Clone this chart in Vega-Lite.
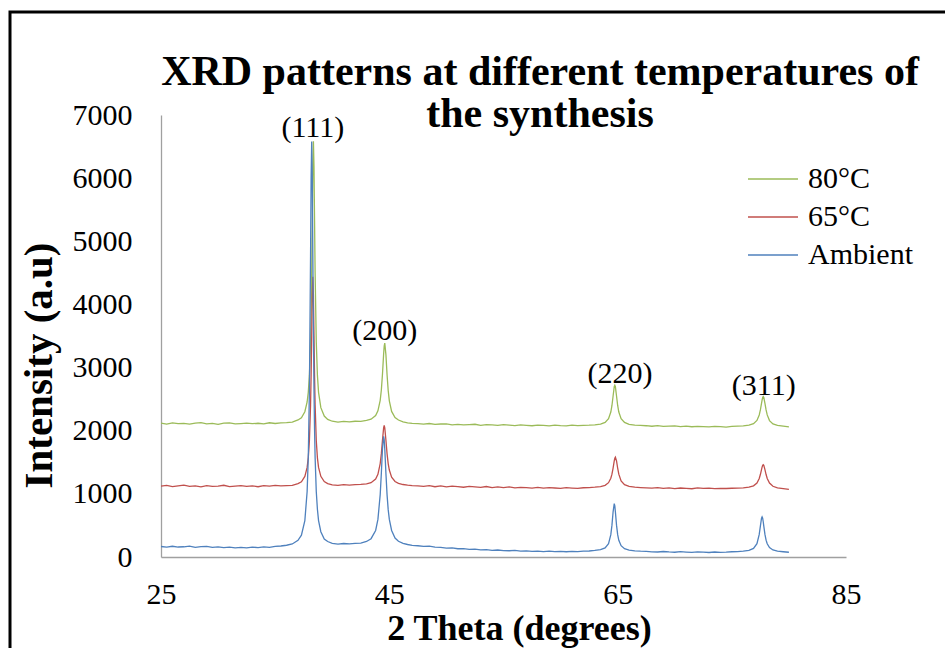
{
  "$schema": "https://vega.github.io/schema/vega-lite/v6.json",
  "width": 950,
  "height": 650,
  "autosize": {"type": "none"},
  "padding": {"left": 10, "top": 12, "right": 0, "bottom": 0},
  "background": "white",
  "view": {"stroke": "#000000", "strokeWidth": 3},
  "title": {
    "text": ["XRD patterns at different temperatures of", "the synthesis"],
    "font": "Liberation Serif",
    "fontSize": 42,
    "fontWeight": "bold",
    "lineHeight": 42,
    "color": "#000000",
    "anchor": "middle",
    "frame": "group",
    "orient": "top",
    "dx": 55,
    "offset": -124
  },
  "datasets": {
    "xrd": [
      {"x":25.0,"g":2120,"r":1121,"b":166},
      {"x":25.5,"g":2106,"r":1133,"b":155},
      {"x":26.0,"g":2125,"r":1114,"b":170},
      {"x":26.5,"g":2112,"r":1128,"b":158},
      {"x":27.0,"g":2117,"r":1139,"b":162},
      {"x":27.5,"g":2103,"r":1118,"b":173},
      {"x":28.0,"g":2121,"r":1125,"b":154},
      {"x":28.5,"g":2128,"r":1112,"b":164},
      {"x":29.0,"g":2109,"r":1130,"b":167},
      {"x":29.5,"g":2116,"r":1119,"b":151},
      {"x":30.0,"g":2101,"r":1124,"b":160},
      {"x":30.5,"g":2119,"r":1136,"b":149},
      {"x":31.0,"g":2124,"r":1115,"b":157},
      {"x":31.5,"g":2107,"r":1122,"b":146},
      {"x":32.0,"g":2113,"r":1131,"b":153},
      {"x":32.5,"g":2120,"r":1117,"b":144},
      {"x":33.0,"g":2111,"r":1126,"b":156},
      {"x":33.5,"g":2118,"r":1113,"b":150},
      {"x":34.0,"g":2108,"r":1129,"b":161},
      {"x":34.5,"g":2126,"r":1122,"b":152},
      {"x":35.0,"g":2114,"r":1134,"b":167},
      {"x":35.5,"g":2123,"r":1125,"b":174},
      {"x":36.0,"g":2128,"r":1130,"b":186},
      {"x":36.5,"g":2137,"r":1134,"b":207},
      {"x":37.0,"g":2170,"r":1162,"b":265},
      {"x":37.3,"g":2205,"r":1190,"b":345},
      {"x":37.6,"g":2300,"r":1276,"b":577},
      {"x":37.8,"g":2455,"r":1419,"b":1037},
      {"x":37.9,"g":2608,"r":1570,"b":1571},
      {"x":38.0,"g":2880,"r":1846,"b":2658},
      {"x":38.1,"g":3409,"r":2409,"b":4773},
      {"x":38.15,"g":3852,"r":2882,"b":6008},
      {"x":38.2,"g":4488,"r":3504,"b":6580},
      {"x":38.25,"g":5326,"r":4144,"b":6008},
      {"x":38.3,"g":6186,"r":4440,"b":4773},
      {"x":38.35,"g":6585,"r":4144,"b":3571},
      {"x":38.4,"g":6186,"r":3504,"b":2658},
      {"x":38.45,"g":5326,"r":2882,"b":2021},
      {"x":38.5,"g":4488,"r":2409,"b":1571},
      {"x":38.6,"g":3409,"r":1846,"b":1037},
      {"x":38.7,"g":2880,"r":1570,"b":757},
      {"x":38.8,"g":2608,"r":1419,"b":577},
      {"x":39.0,"g":2365,"r":1278,"b":400},
      {"x":39.3,"g":2232,"r":1195,"b":285},
      {"x":39.6,"g":2180,"r":1163,"b":245},
      {"x":40.0,"g":2150,"r":1141,"b":216},
      {"x":40.5,"g":2137,"r":1135,"b":204},
      {"x":41.0,"g":2148,"r":1146,"b":214},
      {"x":41.5,"g":2141,"r":1138,"b":208},
      {"x":42.0,"g":2150,"r":1145,"b":216},
      {"x":42.5,"g":2147,"r":1149,"b":221},
      {"x":43.0,"g":2163,"r":1157,"b":246},
      {"x":43.4,"g":2182,"r":1176,"b":290},
      {"x":43.8,"g":2240,"r":1235,"b":420},
      {"x":44.0,"g":2314,"r":1310,"b":595},
      {"x":44.2,"g":2482,"r":1480,"b":988},
      {"x":44.3,"g":2645,"r":1637,"b":1327},
      {"x":44.4,"g":2897,"r":1852,"b":1717},
      {"x":44.5,"g":3214,"r":2045,"b":1912},
      {"x":44.55,"g":3340,"r":2085,"b":1858},
      {"x":44.6,"g":3388,"r":2045,"b":1717},
      {"x":44.7,"g":3206,"r":1852,"b":1327},
      {"x":44.8,"g":2889,"r":1637,"b":988},
      {"x":44.9,"g":2637,"r":1480,"b":750},
      {"x":45.0,"g":2474,"r":1378,"b":595},
      {"x":45.2,"g":2306,"r":1265,"b":420},
      {"x":45.5,"g":2210,"r":1196,"b":300},
      {"x":45.8,"g":2170,"r":1165,"b":250},
      {"x":46.2,"g":2140,"r":1148,"b":215},
      {"x":46.6,"g":2125,"r":1138,"b":198},
      {"x":47.0,"g":2115,"r":1131,"b":185},
      {"x":47.5,"g":2112,"r":1128,"b":178},
      {"x":48.0,"g":2103,"r":1120,"b":168},
      {"x":48.5,"g":2114,"r":1129,"b":171},
      {"x":49.0,"g":2099,"r":1113,"b":155},
      {"x":49.5,"g":2106,"r":1126,"b":153},
      {"x":50.0,"g":2108,"r":1110,"b":141},
      {"x":50.5,"g":2094,"r":1121,"b":144},
      {"x":51.0,"g":2100,"r":1116,"b":131},
      {"x":51.5,"g":2091,"r":1105,"b":133},
      {"x":52.0,"g":2098,"r":1119,"b":121},
      {"x":52.5,"g":2102,"r":1111,"b":126},
      {"x":53.0,"g":2086,"r":1103,"b":114},
      {"x":53.5,"g":2095,"r":1116,"b":118},
      {"x":54.0,"g":2092,"r":1100,"b":106},
      {"x":54.5,"g":2084,"r":1110,"b":111},
      {"x":55.0,"g":2096,"r":1098,"b":102},
      {"x":55.5,"g":2088,"r":1109,"b":99},
      {"x":56.0,"g":2081,"r":1095,"b":104},
      {"x":56.5,"g":2093,"r":1103,"b":92},
      {"x":57.0,"g":2085,"r":1099,"b":97},
      {"x":57.5,"g":2079,"r":1092,"b":89},
      {"x":58.0,"g":2090,"r":1104,"b":94},
      {"x":58.5,"g":2083,"r":1090,"b":86},
      {"x":59.0,"g":2077,"r":1098,"b":92},
      {"x":59.5,"g":2089,"r":1093,"b":85},
      {"x":60.0,"g":2081,"r":1087,"b":90},
      {"x":60.5,"g":2076,"r":1099,"b":83},
      {"x":61.0,"g":2087,"r":1092,"b":88},
      {"x":61.5,"g":2080,"r":1086,"b":84},
      {"x":62.0,"g":2086,"r":1097,"b":92},
      {"x":62.5,"g":2088,"r":1100,"b":95},
      {"x":63.0,"g":2093,"r":1106,"b":104},
      {"x":63.5,"g":2105,"r":1115,"b":116},
      {"x":63.9,"g":2131,"r":1135,"b":144},
      {"x":64.2,"g":2190,"r":1177,"b":212},
      {"x":64.4,"g":2296,"r":1247,"b":354},
      {"x":64.5,"g":2400,"r":1312,"b":504},
      {"x":64.6,"g":2550,"r":1408,"b":716},
      {"x":64.7,"g":2696,"r":1521,"b":845},
      {"x":64.75,"g":2720,"r":1564,"b":808},
      {"x":64.8,"g":2696,"r":1580,"b":716},
      {"x":64.9,"g":2550,"r":1521,"b":504},
      {"x":65.0,"g":2400,"r":1408,"b":354},
      {"x":65.1,"g":2296,"r":1312,"b":265},
      {"x":65.3,"g":2190,"r":1205,"b":179},
      {"x":65.6,"g":2131,"r":1145,"b":131},
      {"x":66.0,"g":2100,"r":1117,"b":109},
      {"x":66.5,"g":2088,"r":1105,"b":98},
      {"x":67.0,"g":2083,"r":1100,"b":92},
      {"x":67.5,"g":2079,"r":1096,"b":88},
      {"x":68.0,"g":2071,"r":1090,"b":82},
      {"x":68.5,"g":2080,"r":1099,"b":79},
      {"x":69.0,"g":2068,"r":1087,"b":87},
      {"x":69.5,"g":2074,"r":1095,"b":80},
      {"x":70.0,"g":2077,"r":1084,"b":75},
      {"x":70.5,"g":2066,"r":1093,"b":84},
      {"x":71.0,"g":2072,"r":1088,"b":78},
      {"x":71.5,"g":2063,"r":1081,"b":73},
      {"x":72.0,"g":2070,"r":1094,"b":80},
      {"x":72.5,"g":2065,"r":1086,"b":76},
      {"x":73.0,"g":2061,"r":1090,"b":71},
      {"x":73.5,"g":2069,"r":1083,"b":79},
      {"x":74.0,"g":2064,"r":1088,"b":74},
      {"x":74.5,"g":2058,"r":1085,"b":77},
      {"x":75.0,"g":2068,"r":1089,"b":83},
      {"x":75.5,"g":2072,"r":1092,"b":85},
      {"x":76.0,"g":2077,"r":1096,"b":92},
      {"x":76.5,"g":2088,"r":1105,"b":105},
      {"x":76.9,"g":2112,"r":1127,"b":136},
      {"x":77.2,"g":2163,"r":1171,"b":211},
      {"x":77.4,"g":2250,"r":1244,"b":358},
      {"x":77.5,"g":2329,"r":1306,"b":488},
      {"x":77.6,"g":2434,"r":1385,"b":614},
      {"x":77.65,"g":2486,"r":1423,"b":635},
      {"x":77.7,"g":2525,"r":1450,"b":614},
      {"x":77.75,"g":2540,"r":1460,"b":558},
      {"x":77.8,"g":2525,"r":1450,"b":488},
      {"x":77.9,"g":2434,"r":1385,"b":358},
      {"x":78.0,"g":2329,"r":1306,"b":267},
      {"x":78.1,"g":2250,"r":1244,"b":210},
      {"x":78.3,"g":2160,"r":1171,"b":150},
      {"x":78.6,"g":2108,"r":1120,"b":112},
      {"x":79.0,"g":2083,"r":1095,"b":93},
      {"x":79.5,"g":2072,"r":1083,"b":83},
      {"x":80.0,"g":2062,"r":1072,"b":75}
    ],
    "peaks": [
      {"label":"(111)","x":38.3,"y":6790},
      {"label":"(200)","x":44.6,"y":3580},
      {"label":"(220)","x":65.2,"y":2900},
      {"label":"(311)","x":77.8,"y":2710}
    ]
  },
  "layer": [
    {
      "data": {"name": "xrd"},
      "transform": [{"fold": ["g", "r", "b"], "as": ["series", "intensity"]}],
      "mark": {"type": "line", "strokeWidth": 1.3},
      "encoding": {
        "x": {
          "field": "x", "type": "quantitative",
          "scale": {"domain": [25, 85], "range": [151, 836], "nice": false, "zero": false},
          "axis": {
            "values": [25, 45, 65, 85],
            "ticks": false, "tickSize": 0, "grid": false,
            "labelFlush": false, "labelOverlap": false,
            "domainColor": "#a0a0a0", "domainWidth": 1.3,
            "labelFont": "Liberation Serif", "labelFontSize": 30, "labelColor": "#000000",
            "labelPadding": 22, "offset": -105,
            "title": "2 Theta (degrees)",
            "titleFont": "Liberation Serif", "titleFontSize": 36, "titleFontWeight": "bold", "titleColor": "#000000",
            "titleX": 509, "titleY": 82, "titleBaseline": "alphabetic", "titleAlign": "center"
          }
        },
        "y": {
          "field": "intensity", "type": "quantitative",
          "scale": {"domain": [0, 7000], "range": [545, 103], "nice": false, "zero": true},
          "axis": {
            "values": [0, 1000, 2000, 3000, 4000, 5000, 6000, 7000],
            "format": "d",
            "ticks": false, "tickSize": 0, "grid": false,
            "labelFlush": false, "labelOverlap": false,
            "domainColor": "#a0a0a0", "domainWidth": 1.3,
            "labelFont": "Liberation Serif", "labelFontSize": 30, "labelColor": "#000000",
            "labelPadding": 29, "offset": -151,
            "title": "Intensity (a.u)",
            "titleFont": "Liberation Serif", "titleFontSize": 41, "titleFontWeight": "bold", "titleColor": "#000000",
            "titleAngle": -90, "titleX": -110, "titleY": 353, "titleBaseline": "alphabetic", "titleAlign": "center"
          }
        },
        "color": {
          "field": "series", "type": "nominal",
          "scale": {"domain": ["g", "r", "b"], "range": ["#9BBB59", "#C0504D", "#4F81BD"]},
          "legend": {
            "orient": "none", "legendX": 737, "legendY": 151,
            "title": null, "padding": 0,
            "symbolType": "stroke", "symbolSize": 2500, "symbolStrokeWidth": 1.5,
            "labelFont": "Liberation Serif", "labelFontSize": 30, "labelColor": "#000000",
            "labelExpr": "datum.label == 'g' ? '80°C' : datum.label == 'r' ? '65°C' : 'Ambient'",
            "clipHeight": 32, "rowPadding": 6, "labelOffset": 9
          }
        }
      }
    },
    {
      "data": {"name": "peaks"},
      "mark": {"type": "text", "font": "Liberation Serif", "fontSize": 30, "baseline": "middle", "align": "center", "color": "#000000"},
      "encoding": {
        "x": {"field": "x", "type": "quantitative"},
        "y": {"field": "y", "type": "quantitative"},
        "text": {"field": "label"}
      }
    }
  ]
}
